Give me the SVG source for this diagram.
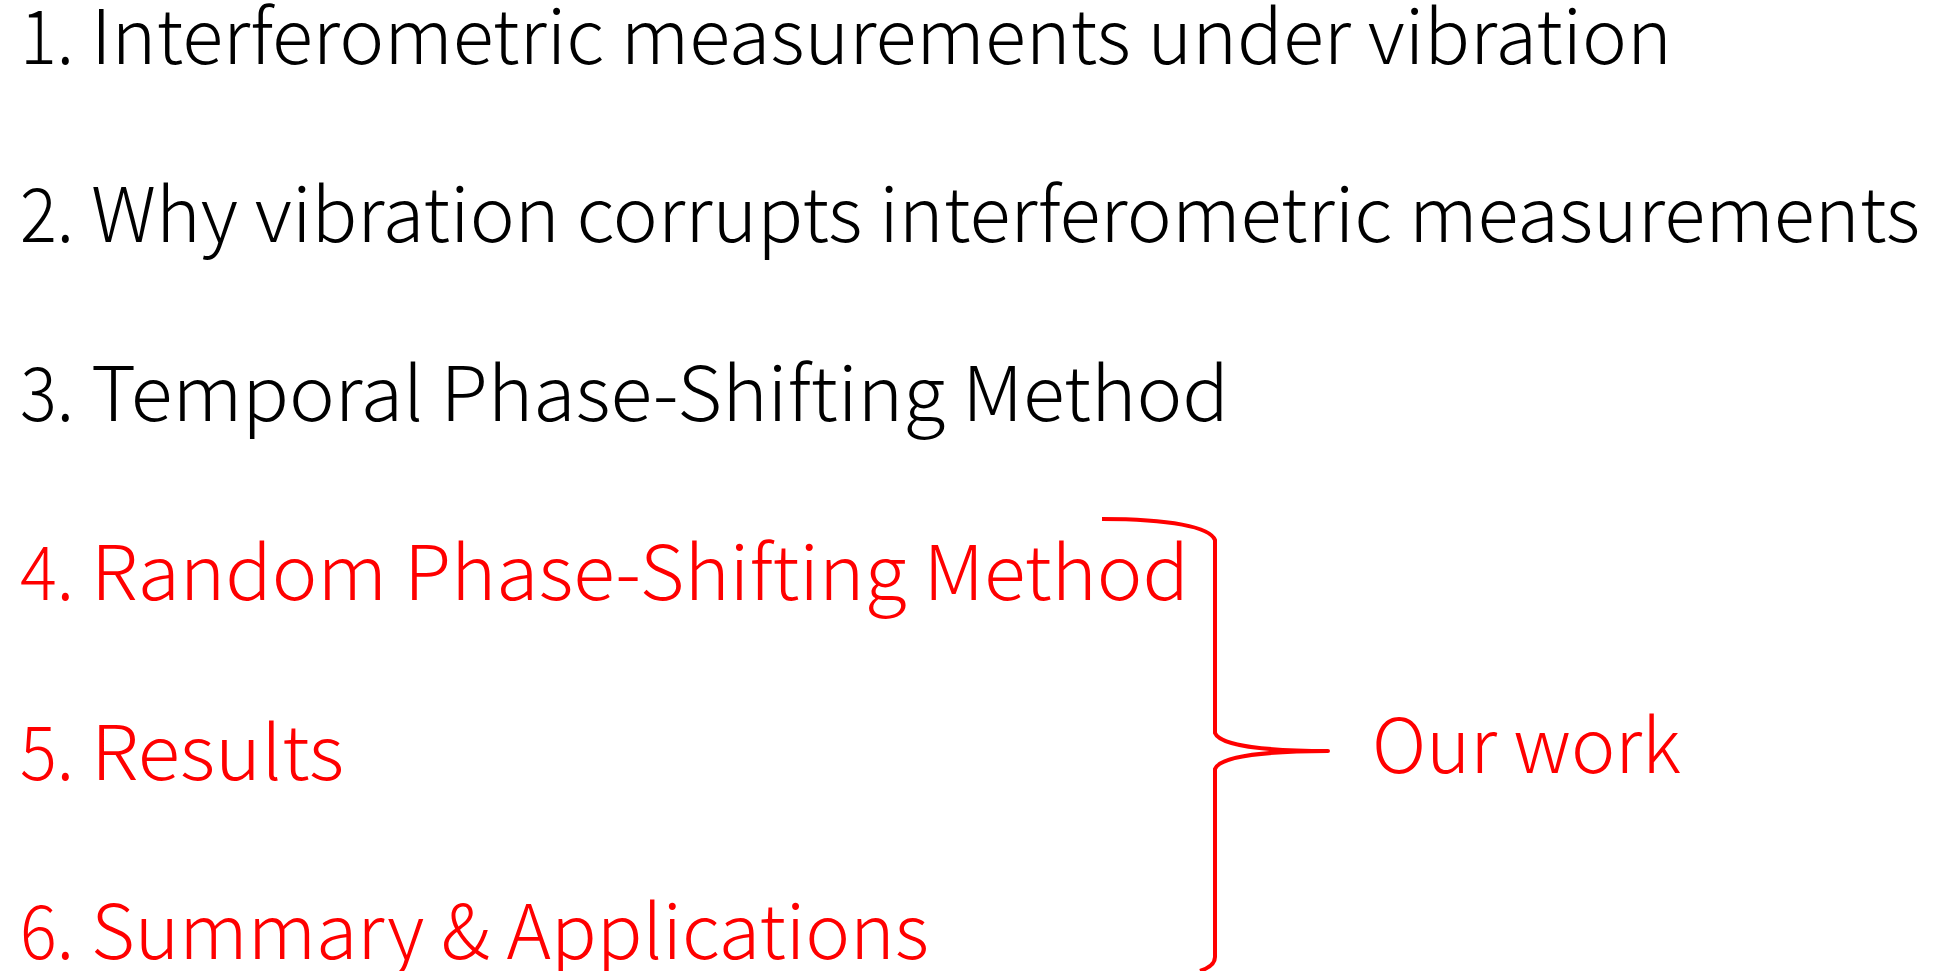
<svg xmlns="http://www.w3.org/2000/svg" width="1939" height="971" viewBox="0 0 1939 971">
<style>
text{font-family:"Noto Sans CJK JP","Noto Sans",sans-serif;font-size:75px;font-weight:300}
.k{fill:#000}
.r{fill:#FF0000}
.brace{fill:none;stroke:#FF0000;stroke-width:4;stroke-linejoin:round}
</style>
<rect width="1939" height="971" fill="#fff"/>
<g id="item1" class="k">
<text x="20" y="64" textLength="54" lengthAdjust="spacingAndGlyphs">1.</text>
<text x="91" y="64" textLength="1581" lengthAdjust="spacingAndGlyphs">Interferometric measurements under vibration</text>
</g>
<g id="item2" class="k">
<text x="20" y="242" textLength="54" lengthAdjust="spacingAndGlyphs">2.</text>
<text x="91" y="242" textLength="1829" lengthAdjust="spacingAndGlyphs">Why vibration corrupts interferometric measurements</text>
</g>
<g id="item3" class="k">
<text x="20" y="421" textLength="54" lengthAdjust="spacingAndGlyphs">3.</text>
<text x="91" y="421" textLength="1138" lengthAdjust="spacingAndGlyphs">Temporal Phase-Shifting Method</text>
</g>
<g id="item4" class="r">
<text x="20" y="600" textLength="54" lengthAdjust="spacingAndGlyphs">4.</text>
<text x="91" y="600" textLength="1098" lengthAdjust="spacingAndGlyphs">Random Phase-Shifting Method</text>
</g>
<g id="item5" class="r">
<text x="20" y="780" textLength="54" lengthAdjust="spacingAndGlyphs">5.</text>
<text x="91" y="780" textLength="253" lengthAdjust="spacingAndGlyphs">Results</text>
</g>
<g id="item6" class="r">
<text x="20" y="959" textLength="54" lengthAdjust="spacingAndGlyphs">6.</text>
<text x="91" y="959" textLength="838" lengthAdjust="spacingAndGlyphs">Summary &amp; Applications</text>
</g>
<g id="ourwork" class="r">
<text x="1372" y="773" textLength="309" lengthAdjust="spacingAndGlyphs">Our work</text>
</g>
<g id="connectors">
<path class="brace" d="M1102,519 C1170,519 1210,527 1215,540 L1215,733 C1220,746 1270,751 1328,751 C1270,751 1220,756 1215,769 L1215,957 C1215,964 1209,968 1200,971"/>
</g>
</svg>
